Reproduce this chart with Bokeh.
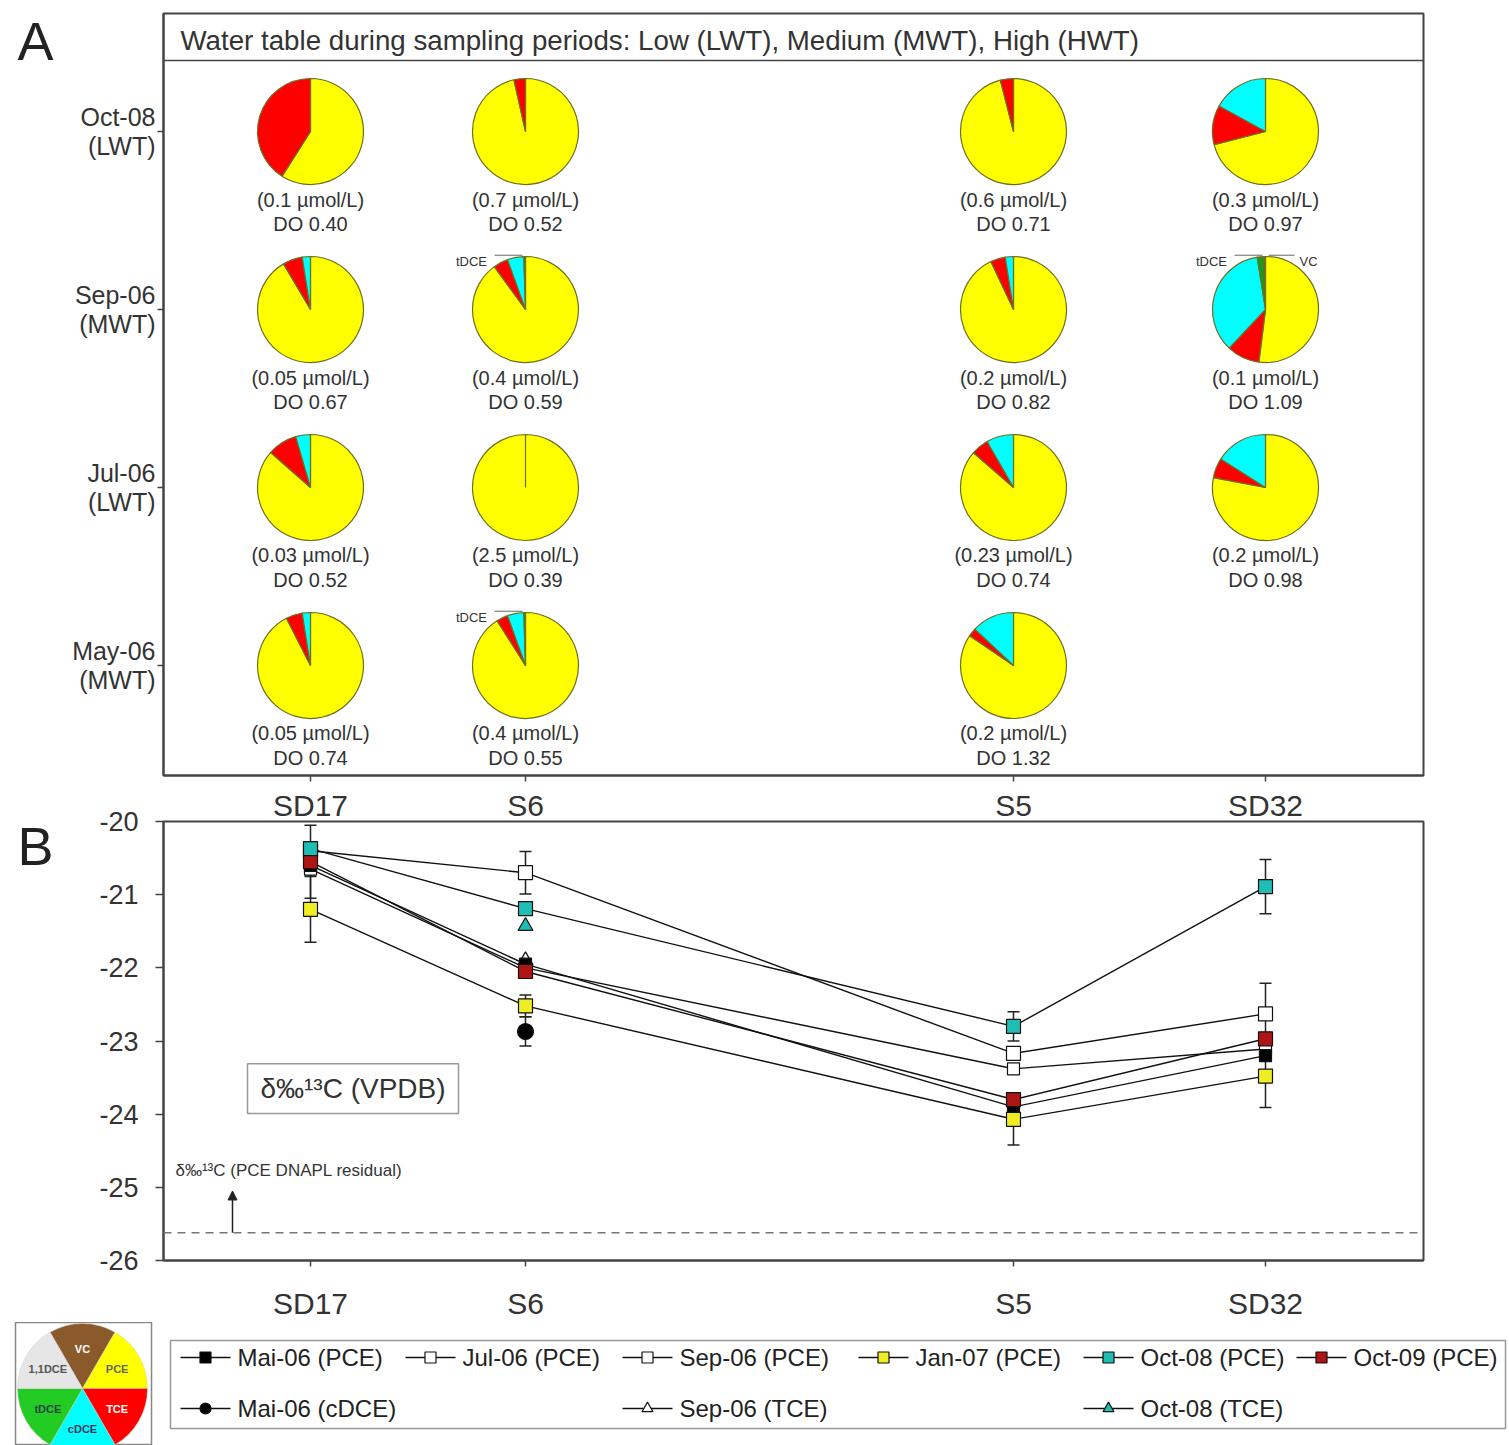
import math
from bokeh.plotting import figure
from bokeh.models import (Range1d, FixedTicker, LinearAxis, Span, Whisker, TeeHead,
                          Arrow, NormalHead, ColumnDataSource)
from bokeh.layouts import column, row
from bokeh.core.properties import value
from bokeh.embed import file_html
from bokeh.resources import INLINE

FONT = "Liberation Sans"
nan = float("nan")

# ---------------- data ----------------
wells = ["SD17", "S6", "S5", "SD32"]
well_pos = [1.47, 3.62, 8.50, 11.02]          # position along the transect

periods = ["May-06", "Jul-06", "Sep-06", "Oct-08"]
water_table = ["MWT", "LWT", "MWT", "LWT"]

# composition (%) rows = periods, cols = wells ; None = not sampled
pce_pct = [[92.5, 91.0, 84.5, None], [86.5, 100.0, 86.4, 78.0], [91.5, 90.0, 93.0, 52.0], [59.0, 96.5, 96.0, 71.0]]
tce_pct = [[5.0, 3.5, 2.5, None], [9.0, 0.0, 5.3, 6.0], [6.0, 4.5, 4.5, 10.0], [41.0, 3.5, 4.0, 12.0]]
cdce_pct = [[2.5, 5.0, 13.0, None], [4.5, 0.0, 8.3, 16.0], [2.5, 5.0, 2.5, 35.5], [0.0, 0.0, 0.0, 17.0]]
tdce_pct = [[0.0, 0.5, 0.0, None], [0.0, 0.0, 0.0, 0.0], [0.0, 0.5, 0.0, 2.0], [0.0, 0.0, 0.0, 0.0]]
vc_pct = [[0.0, 0.0, 0.0, None], [0.0, 0.0, 0.0, 0.0], [0.0, 0.0, 0.0, 0.5], [0.0, 0.0, 0.0, 0.0]]

conc_umol = [["0.05", "0.4", "0.2", None], ["0.03", "2.5", "0.23", "0.2"],
             ["0.05", "0.4", "0.2", "0.1"], ["0.1", "0.7", "0.6", "0.3"]]
do_mgl = [["0.74", "0.55", "1.32", None], ["0.52", "0.39", "0.74", "0.98"],
          ["0.67", "0.59", "0.82", "1.09"], ["0.40", "0.52", "0.71", "0.97"]]

pie_callouts = [(2, 1, "tDCE", -1), (0, 1, "tDCE", -1), (2, 3, "tDCE", -1), (2, 3, "VC", 1)]

title_text = "Water table during sampling periods: Low (LWT), Medium (MWT), High (HWT)"

# delta 13C (per mil VPDB), order of wells
mai06_pce = [-20.60, -21.95, -23.90, -23.20]
jul06_pce = [-20.65, -22.00, -23.38, -23.11]
sep06_pce = [-20.40, -20.70, -23.17, -22.63]
jan07_pce = [-21.20, -22.52, -24.07, -23.48]
oct08_pce = [-20.37, -21.19, -22.80, -20.89]
oct09_pce = [-20.55, -22.05, -23.80, -22.97]
mai06_cdce = [nan, -22.87, nan, nan]
sep06_tce = [nan, -21.90, nan, nan]
oct08_tce = [nan, -21.43, nan, nan]

err_jan07 = [0.45, 0.15, 0.35, 0.43]
err_oct09 = [0.50, 0.0, 0.0, 0.0]
err_sep06 = [0.0, 0.29, 0.0, 0.42]
err_oct08 = [0.0, 0.0, 0.20, 0.37]
err_cdce = [0.0, 0.20, 0.0, 0.0]

dnapl_delta = -25.62
b_ticks = [-26, -25, -24, -23, -22, -21, -20]

# ---------------- helpers ----------------
def style_axis(ax, size):
    ax.axis_line_color = "#444"
    ax.axis_line_width = 2
    ax.major_tick_line_color = "#444"
    ax.major_tick_line_width = 1.5
    ax.minor_tick_line_color = None
    ax.major_label_text_font = FONT
    ax.major_label_text_font_size = size
    ax.major_label_text_color = "#333"


def letter_fig(top, frame_h, bottom, letter, from_frame_top):
    f = figure(width=68, height=top + frame_h + bottom, x_range=Range1d(0, 68),
               y_range=Range1d(0, frame_h), output_backend="svg", toolbar_location=None,
               x_axis_location=None, y_axis_location=None, min_border_left=0, min_border_right=0,
               min_border_top=top, min_border_bottom=bottom)
    f.outline_line_color = None
    f.grid.visible = False
    f.text(x=[35], y=[frame_h - from_frame_top], text=[letter], text_font=value(FONT),
           text_font_size="54px", text_align="center", text_baseline="middle", text_color="#222")
    return f


# ---------------- panel A (pies) ----------------
pA = figure(width=1441, height=785, x_range=Range1d(0, 12.6), y_range=Range1d(-0.618, 3.663),
            output_backend="svg", toolbar_location=None,
            min_border_left=95, min_border_right=86, min_border_top=13, min_border_bottom=10)
pA.grid.visible = False
pA.outline_line_color = "#444"
pA.outline_line_width = 2

xa = pA.xaxis[0]
xa.ticker = FixedTicker(ticks=well_pos)
style_axis(xa, "1px")
xa.major_label_text_color = None
xa.major_tick_out = 6
xa.major_tick_in = 0
xa.major_label_standoff = 0

ya = pA.yaxis[0]
ya.ticker = FixedTicker(ticks=[0, 1, 2, 3])
style_axis(ya, "25px")
ya.major_label_overrides = {i: f"{periods[i]}\n({water_table[i]})" for i in range(4)}
ya.major_label_text_line_height = 1.05
ya.major_tick_out = 6
ya.major_tick_in = 0
ya.major_label_standoff = 2

comp_colors = ["#ffff00", "#ff0000", "#00ffff", "#1a9a1a", "#8b5a2b"]
comp_tables = [pce_pct, tce_pct, cdce_pct, tdce_pct, vc_pct]
wd = dict(x=[], y=[], s=[], e=[], c=[])
tx, ty, tt = [], [], []
for r in range(4):
    for c in range(4):
        if pce_pct[r][c] is None:
            continue
        vals = [t[r][c] for t in comp_tables]
        tot = sum(vals)
        cum = 0.0
        for v, col in zip(vals, comp_colors):
            if v <= 0:
                continue
            a0 = math.pi / 2 - 2 * math.pi * cum / tot
            cum += v
            a1 = math.pi / 2 - 2 * math.pi * min(cum / tot, 0.99998)
            wd["x"].append(well_pos[c]); wd["y"].append(r)
            wd["s"].append(a0); wd["e"].append(a1); wd["c"].append(col)
        tx += [well_pos[c], well_pos[c]]
        ty += [r - 0.382, r - 0.522]
        tt += [f"({conc_umol[r][c]} µmol/L)", f"DO {do_mgl[r][c]}"]

pA.wedge(x="x", y="y", radius=0.53, start_angle="s", end_angle="e", direction="clock",
         fill_color="c", line_color="#6e6e26", line_width=1.2, source=ColumnDataSource(wd))
pA.text(x=tx, y=ty, text=tt, text_font=value(FONT), text_font_size="20px",
        text_align="center", text_baseline="middle", text_color="#333")

for (r, c, lab, side) in pie_callouts:
    x0 = well_pos[c]
    if side < 0:
        pA.text(x=[x0 - 0.54], y=[r + 0.27], text=[lab], text_font=value(FONT), text_font_size="13px",
                text_align="center", text_baseline="middle", text_color="#333")
        pA.line([x0 - 0.31, x0 - 0.03], [r + 0.305, r + 0.305], line_color="#666", line_width=1)
    else:
        pA.text(x=[x0 + 0.43], y=[r + 0.27], text=[lab], text_font=value(FONT), text_font_size="13px",
                text_align="center", text_baseline="middle", text_color="#333")
        pA.line([x0 + 0.03, x0 + 0.29], [r + 0.305, r + 0.305], line_color="#666", line_width=1)

pA.add_layout(Span(location=3.399, dimension="width", line_color="#444", line_width=1.5))
pA.text(x=[0.17], y=[3.511], text=[title_text], text_font=value(FONT), text_font_size="27.7px",
        text_baseline="middle", text_color="#333")

# ---------------- panel B (isotopes) ----------------
pB = figure(width=1441, height=537, x_range=Range1d(0, 12.6), y_range=Range1d(-26, -20),
            output_backend="svg", toolbar_location=None,
            min_border_left=95, min_border_right=86, min_border_top=35, min_border_bottom=62)
pB.grid.visible = False
pB.outline_line_color = "#444"
pB.outline_line_width = 2

well_labels = {well_pos[i]: wells[i] for i in range(4)}
xb = pB.xaxis[0]
xb.ticker = FixedTicker(ticks=well_pos)
xb.major_label_overrides = well_labels
style_axis(xb, "30px")
xb.major_tick_out = 6
xb.major_tick_in = 0
xb.major_label_standoff = 20

top_ax = LinearAxis(ticker=FixedTicker(ticks=well_pos), major_label_overrides=well_labels)
style_axis(top_ax, "30px")
top_ax.axis_line_color = None
top_ax.major_tick_out = 0
top_ax.major_tick_in = 0
top_ax.major_label_standoff = 0
pB.add_layout(top_ax, "above")

yb = pB.yaxis[0]
yb.ticker = FixedTicker(ticks=b_ticks)
yb.major_label_overrides = {t: f"{t}" for t in b_ticks}
style_axis(yb, "27px")
yb.major_tick_out = 8
yb.major_tick_in = 0
yb.major_label_standoff = 17

series = [
    ("Mai-06 (PCE)", mai06_pce, "square", "#000000", 12),
    ("Jul-06 (PCE)", jul06_pce, "square", "#ffffff", 12),
    ("Sep-06 (PCE)", sep06_pce, "square", "#ffffff", 14),
    ("Jan-07 (PCE)", jan07_pce, "square", "#eeee22", 14),
    ("Oct-08 (PCE)", oct08_pce, "square", "#20bdb5", 14),
    ("Oct-09 (PCE)", oct09_pce, "square", "#b01515", 14),
    ("Mai-06 (cDCE)", mai06_cdce, "circle", "#000000", 16),
    ("Sep-06 (TCE)", sep06_tce, "triangle", "#ffffff", 15),
    ("Oct-08 (TCE)", oct08_tce, "triangle", "#20bdb5", 15),
]

errs = [(jan07_pce, err_jan07), (oct09_pce, err_oct09), (sep06_pce, err_sep06),
        (oct08_pce, err_oct08), (mai06_cdce, err_cdce)]
ex, elo, ehi = [], [], []
for vals, er in errs:
    for i in range(4):
        if er[i] > 0:
            ex.append(well_pos[i]); elo.append(vals[i] - er[i]); ehi.append(vals[i] + er[i])
pB.add_layout(Whisker(source=ColumnDataSource(dict(x=ex, lo=elo, hi=ehi)), base="x", upper="hi",
                      lower="lo", dimension="height", line_color="#222", line_width=1.5, level="underlay",
                      upper_head=TeeHead(size=12, line_color="#222", line_width=1.5),
                      lower_head=TeeHead(size=12, line_color="#222", line_width=1.5)))

for name, vals, mk, col, sz in series:
    pB.line(well_pos, vals, line_color="#111", line_width=1.4)

draw_order = [7, 1, 0, 2, 3, 5, 4, 8, 6]
for k in draw_order:
    name, vals, mk, col, sz = series[k]
    pB.scatter(well_pos, vals, marker=mk, size=sz, fill_color=col, line_color="#111", line_width=1.2)

pB.add_layout(Span(location=dnapl_delta, dimension="width", line_color="#777", line_dash="8 6",
                   line_width=1.5))
pB.add_layout(Arrow(end=NormalHead(size=9, fill_color="#222", line_color="#222"),
                    x_start=0.69, y_start=dnapl_delta, x_end=0.69, y_end=-25.05,
                    line_color="#222", line_width=1.5))
pB.text(x=[0.12], y=[-24.77], text=["δ‰¹³C (PCE DNAPL residual)"], text_font=value(FONT),
        text_font_size="17px", text_baseline="middle", text_color="#333")
pB.rect(x=[1.895], y=[-23.65], width=2.11, height=0.68, fill_color="white", line_color="#999",
        line_width=1.5)
pB.text(x=[1.895], y=[-23.65], text=["δ‰¹³C (VPDB)"], text_font=value(FONT), text_font_size="28px",
        text_align="center", text_baseline="middle", text_color="#333")

# ---------------- composition key (pie legend) ----------------
key_names = ["VC", "PCE", "TCE", "cDCE", "tDCE", "1,1DCE"]
key_colors = ["#8b5a2b", "#ffff00", "#ff0000", "#00ffff", "#22cc22", "#e6e6e6"]
key_text_colors = ["white", "#666", "white", "#335", "#244", "#555"]

pP = figure(width=163, height=123, x_range=Range1d(0, 136), y_range=Range1d(0, 123),
            output_backend="svg", toolbar_location=None, x_axis_location=None, y_axis_location=None,
            min_border_left=15, min_border_right=12, min_border_top=0, min_border_bottom=0)
pP.grid.visible = False
pP.outline_line_color = "#888"
pP.outline_line_width = 1.5
kd = dict(s=[], e=[], c=[])
kx, ky = [], []
for i in range(6):
    a0 = math.radians(120 - 60 * i)
    a1 = math.radians(60 - 60 * i)
    kd["s"].append(a0); kd["e"].append(a1); kd["c"].append(key_colors[i])
    am = (a0 + a1) / 2
    kx.append(67 + 40 * math.cos(am)); ky.append(57 + 40 * math.sin(am))
pP.wedge(x=67, y=57, radius=65, start_angle="s", end_angle="e", direction="clock", fill_color="c",
         line_color="#ccc", line_width=0.5, source=ColumnDataSource(kd))
pP.text(x=kx, y=ky, text=key_names, text_font=value(FONT), text_font_size="11px", text_font_style="bold",
        text_align="center", text_baseline="middle", text_color=key_text_colors)

# ---------------- series legend ----------------
pL = figure(width=1346, height=123, x_range=Range1d(0, 1346), y_range=Range1d(0, 123),
            output_backend="svg", toolbar_location=None, x_axis_location=None, y_axis_location=None,
            min_border_left=0, min_border_right=0, min_border_top=0, min_border_bottom=0)
pL.grid.visible = False
pL.outline_line_color = None
pL.rect(x=[674.5], y=[61], width=1335, height=88, fill_color=None, line_color="#999", line_width=1.5)
slot_x = [17, 242, 459, 695, 920, 1133]
row_y = [88, 37]
legend_slots = [(0, 0), (1, 0), (2, 0), (3, 0), (4, 0), (5, 0), (0, 1), (2, 1), (4, 1)]
for (name, vals, mk, col, sz), (ci, ri) in zip(series, legend_slots):
    x0 = slot_x[ci]
    y0 = row_y[ri]
    pL.line([x0, x0 + 50], [y0, y0], line_color="#111", line_width=1.4)
    pL.scatter([x0 + 25], [y0], marker=mk, size=min(sz, 12) - 1, fill_color=col, line_color="#111",
               line_width=1.2)
    pL.text(x=[x0 + 57], y=[y0], text=[name], text_font=value(FONT), text_font_size="24px",
            text_baseline="middle", text_color="#222")

layout = column(row(letter_fig(13, 762, 10, "A", 27), pA),
                row(letter_fig(35, 440, 62, "B", 25), pB),
                row(pP, pL))
open("out.html", "w").write(file_html(layout, INLINE))
